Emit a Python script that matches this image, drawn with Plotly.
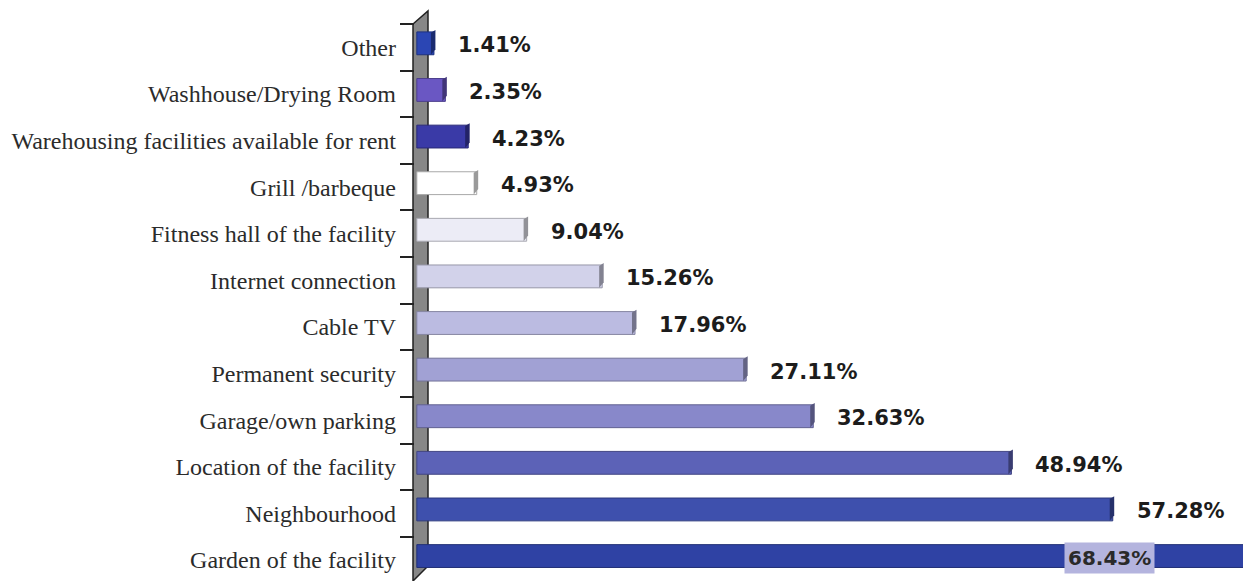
import plotly.graph_objects as go

categories = [
    "Other",
    "Washhouse/Drying Room",
    "Warehousing facilities available for rent",
    "Grill /barbeque",
    "Fitness hall of the facility",
    "Internet connection",
    "Cable TV",
    "Permanent security",
    "Garage/own parking",
    "Location of the facility",
    "Neighbourhood",
    "Garden of the facility",
]
values = [1.41, 2.35, 4.23, 4.93, 9.04, 15.26, 17.96, 27.11, 32.63, 48.94, 57.28, 68.43]
labels = ["1.41%", "2.35%", "4.23%", "4.93%", "9.04%", "15.26%", "17.96%",
          "27.11%", "32.63%", "48.94%", "57.28%", "68.43%"]
colors = ["#2b46b4", "#6a57c3", "#3a3aa7", "#ffffff", "#ececf6", "#d2d2ea",
          "#bbbbe1", "#a1a1d4", "#8888ca", "#5c62b7", "#3e50ad", "#2f42a4"]

X_MAX = 68.0
X_MIN = -0.15
W, H = 1243, 581
L_M, T_M = 415, 24


def darker(hexc, f):
    h = hexc.lstrip("#")
    r, g, b = (int(h[i:i + 2], 16) for i in (0, 2, 4))
    return "rgb(%d,%d,%d)" % (int(r * f), int(g * f), int(b * f))


edge_colors = [darker(c, 0.72) if c != "#ffffff" else "#a8a8a8" for c in colors]

BAR_W = 0.49
SHIFT = 0.085  # bars sit slightly above the category centre (3D look)

fig = go.Figure()
fig.add_trace(go.Bar(
    y=categories, x=values, orientation="h",
    width=BAR_W, offset=-BAR_W / 2 - SHIFT,
    marker=dict(color=colors, line=dict(color=edge_colors, width=1)),
    hoverinfo="skip", showlegend=False,
))

shapes = []
plot_w = W - L_M
plot_h = H - T_M
def px(xp):
    return (xp - L_M) / plot_w
def py(yp):
    return 1 - (yp - T_M) / plot_h
# the grey 3D wall on the category axis
shapes.append(dict(
    type="path", xref="paper", yref="paper", layer="below",
    path="M %f %f L %f %f L %f %f L %f %f Z" % (
        px(413), py(24), px(428), py(11), px(428), py(566), px(413), py(581)),
    fillcolor="#878787", line=dict(color="#222222", width=1.5),
))

# 3D end caps of bars
for i, (v, c) in enumerate(zip(values, colors)):
    top = i - BAR_W / 2 - SHIFT
    bot = i + BAR_W / 2 - SHIFT
    if v >= X_MAX:
        continue
    shapes.append(dict(
        type="path", xref="x", yref="y", layer="above",
        path="M %f %f L %f %f L %f %f L %f %f Z" % (
            v - 0.25, top + 0.02, v + 0.12, top - 0.04, v + 0.12, bot - 0.12, v - 0.25, bot),
        fillcolor=darker(c, 0.62) if c != "#ffffff" else "#9a9a9a",
        line=dict(width=0),
    ))

annotations = []
for i, (v, lab) in enumerate(zip(values, labels)):
    if v < X_MAX - 4:
        annotations.append(dict(
            x=v, y=i, xref="x", yref="y", text=lab, showarrow=False,
            xanchor="left", yanchor="middle", xshift=22, yshift=2,
            font=dict(family="DejaVu Sans", size=21, color="#1c1c1c", weight="bold"),
        ))
    else:
        annotations.append(dict(
            x=X_MAX, y=i, xref="x", yref="y", text=lab, showarrow=False,
            xanchor="right", yanchor="middle", xshift=-88, yshift=2,
            bgcolor="#b4b4de", borderpad=3,
            font=dict(family="DejaVu Sans", size=20, color="#2a2a2a", weight="bold"),
        ))

fig.update_layout(
    width=W, height=H,
    margin=dict(l=L_M, r=0, t=T_M, b=0, pad=0),
    paper_bgcolor="white", plot_bgcolor="white",
    shapes=shapes, annotations=annotations,
    xaxis=dict(range=[X_MIN, X_MAX], visible=False, showgrid=False, zeroline=False),
    yaxis=dict(
        type="category", categoryorder="array", categoryarray=categories,
        range=[11.45, -0.5],
        showgrid=False, zeroline=False, showline=False,
        ticks="outside", tickson="boundaries", ticklen=14, tickwidth=1.5, tickcolor="#222222",
        ticklabelstandoff=18,
        tickfont=dict(family="Liberation Serif", size=24, color="#2b2b2b"),
    ),
)

fig.write_html(
    "out.html",
    config={"displayModeBar": False},
    post_script="document.body.style.margin='0';document.body.style.overflow='hidden';",
)
